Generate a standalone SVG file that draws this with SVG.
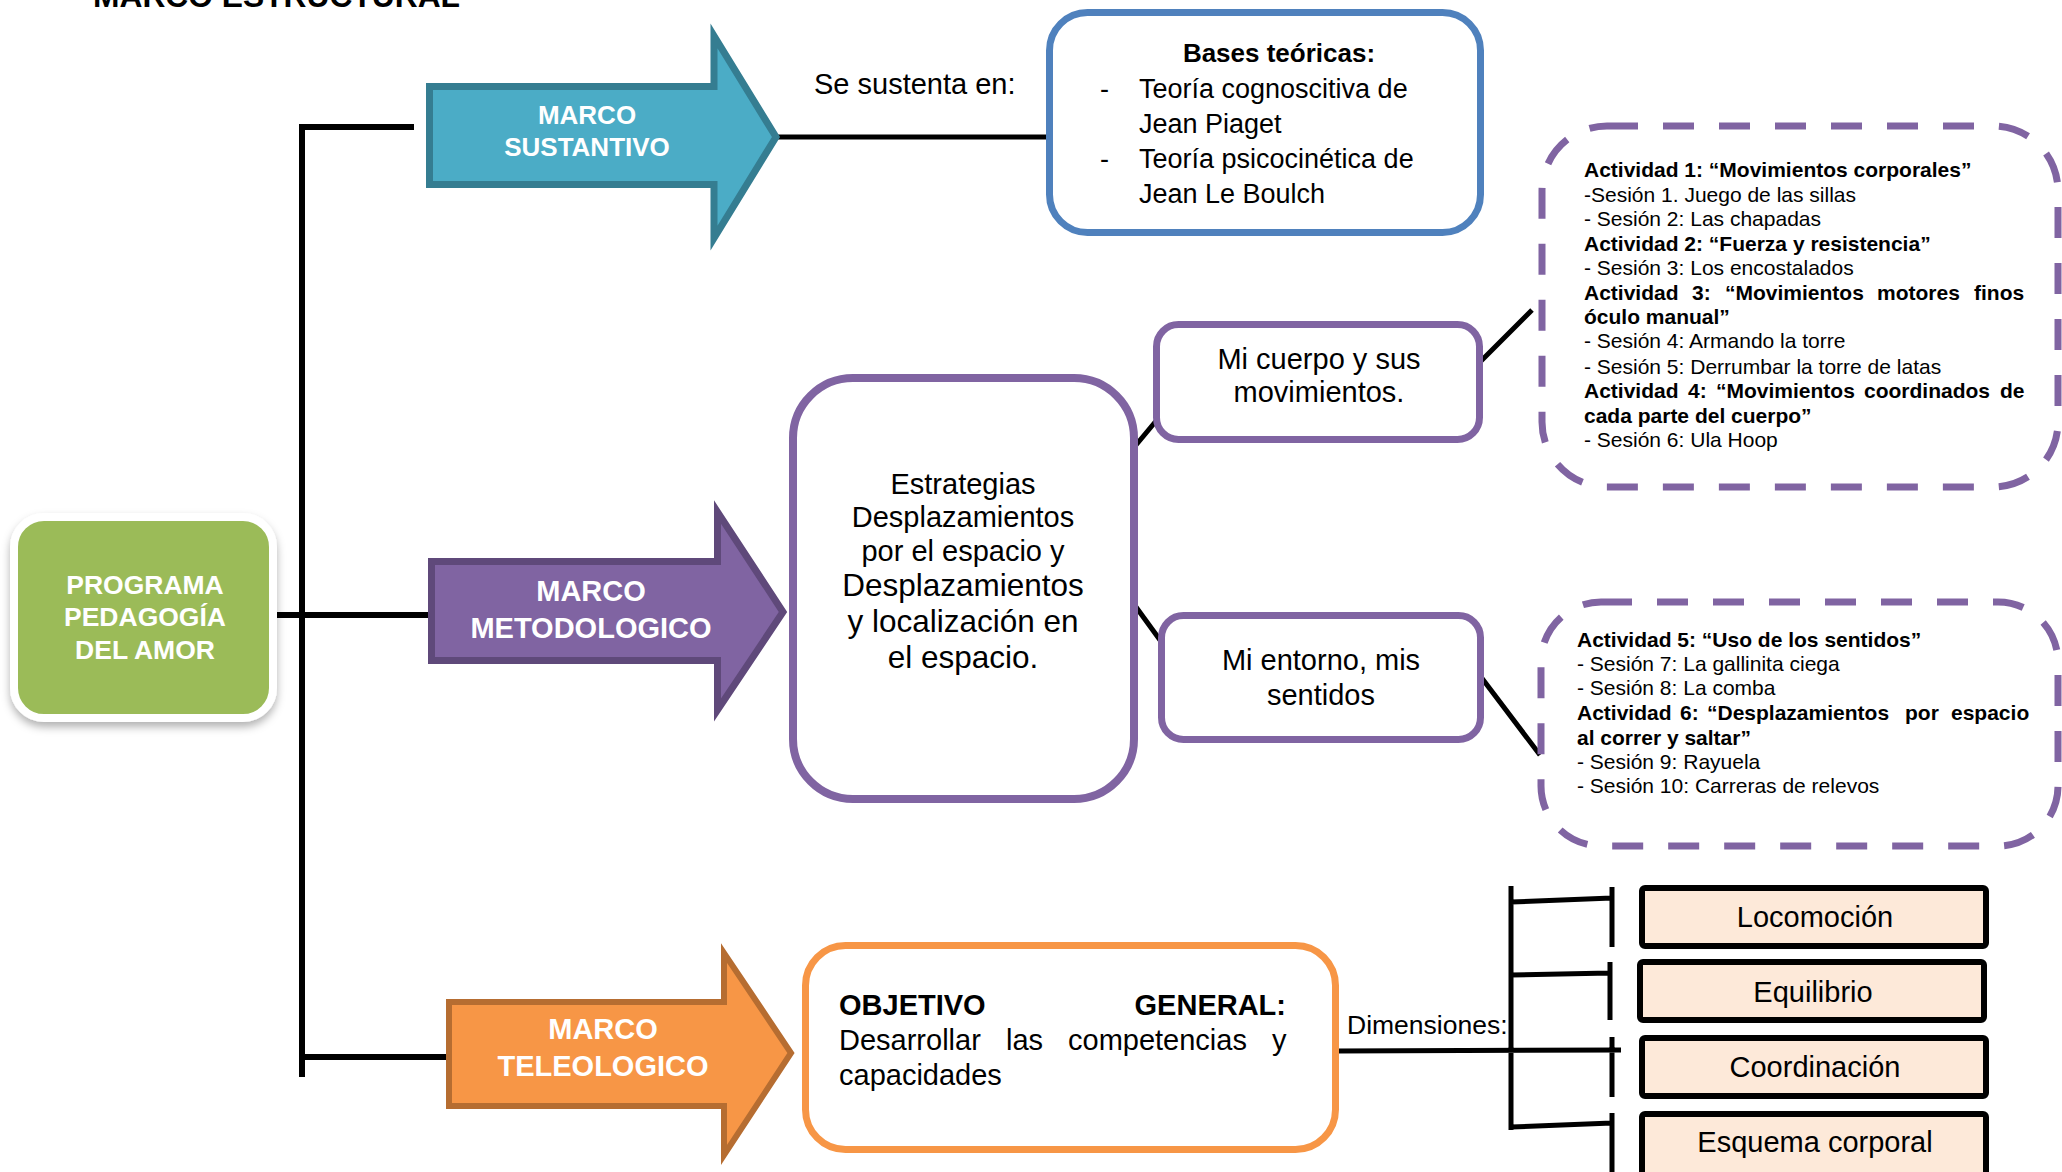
<svg xmlns="http://www.w3.org/2000/svg" width="2062" height="1172" viewBox="0 0 2062 1172">
<defs>
<style>
text{font-family:"Liberation Sans",Arial,sans-serif;fill:#000}
.b{font-weight:bold}
.w{fill:#fff;font-weight:bold;text-anchor:middle}
.c{text-anchor:middle}
.ln{stroke:#000;stroke-width:6;fill:none}
.ln5{stroke:#000;stroke-width:5;fill:none}
.pbox{fill:#fff;stroke:#8064A2;stroke-width:7}
.dash{fill:#fff;stroke:#8064A2;stroke-width:7;stroke-dasharray:31 25}
.dim{fill:#FDE9D9;stroke:#000;stroke-width:6}
.act{font-size:21px}
</style>
<filter id="sh" x="-10%" y="-10%" width="120%" height="130%">
<feDropShadow dx="0" dy="5" stdDeviation="4" flood-color="#000" flood-opacity="0.3"/>
</filter>
</defs>
<rect width="2062" height="1172" fill="#fff"/>
<text class="b" x="93" y="7" font-size="32" textLength="367" lengthAdjust="spacingAndGlyphs">MARCO ESTRUCTURAL</text>

<g id="connectors">
<path class="ln" d="M302,127 H414 M302,124 V1077 M277,615 H430 M299,1057 H448"/>
<path class="ln5" d="M778,137 H1048"/>
<path class="ln5" d="M1136,445 L1156,421 M1136,607 L1160,640 M1480,362 L1532,310 M1481,677 L1540,755"/>
<path class="ln5" d="M1337,1051 L1621,1050 M1511,886 V1130 M1511,902 L1612,898 M1511,975 L1610,973 M1511,1127 L1612,1123 M1612,887 V947 M1610,962 V1020 M1612,1037 V1097 M1612,1113 V1172"/>
</g>

<g id="programa">
<rect x="14" y="517" width="259" height="201" rx="30" fill="#9BBB59" stroke="#fff" stroke-width="8" filter="url(#sh)"/>
<text class="w" font-size="26.5" x="145" y="594">PROGRAMA</text>
<text class="w" font-size="26.5" x="145" y="626">PEDAGOGÍA</text>
<text class="w" font-size="26.5" x="145" y="659">DEL AMOR</text>
</g>

<g id="marco-sustantivo">
<path d="M429.5,86.5 H714 V36 L776,137 L714,238 V184.5 H429.5 Z" fill="#4BACC6" stroke="#357D91" stroke-width="7"/>
<text class="w" font-size="26" x="587" y="124">MARCO</text>
<text class="w" font-size="26" x="587" y="156">SUSTANTIVO</text>
</g>

<g id="marco-metodologico">
<path d="M431.5,561.5 H717.5 V512 L783,612 L717.5,710 V660.5 H431.5 Z" fill="#8064A2" stroke="#5F497A" stroke-width="7"/>
<text class="w" font-size="29" x="591" y="601">MARCO</text>
<text class="w" font-size="29" x="591" y="638">METODOLOGICO</text>
</g>

<g id="marco-teleologico">
<path d="M449,1002 H724 V953 L791,1053 L724,1155 V1106 H449 Z" fill="#F79646" stroke="#B66D31" stroke-width="6"/>
<text class="w" font-size="29" x="603" y="1039">MARCO</text>
<text class="w" font-size="29" x="603" y="1076">TELEOLOGICO</text>
</g>

<g id="se-sustenta">
<text font-size="29" x="814" y="94">Se sustenta en:</text>
</g>

<g id="bases-teoricas">
<rect x="1049.5" y="12.5" width="431" height="220" rx="38" fill="#fff" stroke="#4F81BD" stroke-width="7"/>
<text class="b c" font-size="26" x="1279" y="62">Bases teóricas:</text>
<text font-size="27" x="1100" y="98">-</text>
<text font-size="27" x="1139" y="98">Teoría cognoscitiva de</text>
<text font-size="27" x="1139" y="133">Jean Piaget</text>
<text font-size="27" x="1100" y="168">-</text>
<text font-size="27" x="1139" y="168">Teoría psicocinética de</text>
<text font-size="27" x="1139" y="203">Jean Le Boulch</text>
</g>

<g id="estrategias">
<rect x="793" y="378" width="341" height="421" rx="60" fill="#fff" stroke="#8064A2" stroke-width="8"/>
<text class="c" font-size="29" x="963" y="494">Estrategias</text>
<text class="c" font-size="29" x="963" y="527">Desplazamientos</text>
<text class="c" font-size="29" x="963" y="561">por el espacio y</text>
<text class="c" font-size="31.5" x="963" y="596">Desplazamientos</text>
<text class="c" font-size="31.5" x="963" y="632">y localización en</text>
<text class="c" font-size="31.5" x="963" y="668">el espacio.</text>
</g>

<g id="mi-cuerpo">
<rect class="pbox" x="1156.5" y="324.5" width="323" height="115" rx="22"/>
<text class="c" font-size="29" x="1319" y="369">Mi cuerpo y sus</text>
<text class="c" font-size="29" x="1319" y="402">movimientos.</text>
</g>

<g id="mi-entorno">
<rect class="pbox" x="1161.5" y="615.5" width="319" height="124" rx="22"/>
<text class="c" font-size="29" x="1321" y="670">Mi entorno, mis</text>
<text class="c" font-size="29" x="1321" y="705">sentidos</text>
</g>

<g id="actividades-1-4">
<rect class="dash" x="1542" y="126" width="516" height="361" rx="65"/>
<text class="act b" x="1584" y="177">Actividad 1: “Movimientos corporales”</text>
<text class="act" x="1584" y="202">-Sesión 1. Juego de las sillas</text>
<text class="act" x="1584" y="226">- Sesión 2: Las chapadas</text>
<text class="act b" x="1584" y="251">Actividad 2: “Fuerza y resistencia”</text>
<text class="act" x="1584" y="275">- Sesión 3: Los encostalados</text>
<text class="act b" y="300"><tspan x="1584">Actividad</tspan><tspan x="1692">3:</tspan><tspan x="1725">“Movimientos</tspan><tspan x="1877">motores</tspan><tspan x="1974">finos</tspan></text>
<text class="act b" x="1584" y="324">óculo manual”</text>
<text class="act" x="1584" y="348">- Sesión 4: Armando la torre</text>
<text class="act" x="1584" y="374">- Sesión 5: Derrumbar la torre de latas</text>
<text class="act b" y="398"><tspan x="1584">Actividad</tspan><tspan x="1688">4:</tspan><tspan x="1716">“Movimientos</tspan><tspan x="1864">coordinados</tspan><tspan x="2000">de</tspan></text>
<text class="act b" x="1584" y="423">cada parte del cuerpo”</text>
<text class="act" x="1584" y="447">- Sesión 6: Ula Hoop</text>
</g>

<g id="actividades-5-6">
<rect class="dash" x="1541" y="602" width="517" height="244" rx="60"/>
<text class="act b" x="1577" y="647">Actividad 5: “Uso de los sentidos”</text>
<text class="act" x="1577" y="671">- Sesión 7: La gallinita ciega</text>
<text class="act" x="1577" y="695">- Sesión 8: La comba</text>
<text class="act b" y="720"><tspan x="1577">Actividad</tspan><tspan x="1680">6:</tspan><tspan x="1707">“Desplazamientos</tspan><tspan x="1905">por</tspan><tspan x="1951">espacio</tspan></text>
<text class="act b" x="1577" y="745">al correr y saltar”</text>
<text class="act" x="1577" y="769">- Sesión 9: Rayuela</text>
<text class="act" x="1577" y="793">- Sesión 10: Carreras de relevos</text>
</g>

<g id="objetivo">
<rect x="805.5" y="945.5" width="530" height="204" rx="40" fill="#fff" stroke="#F79646" stroke-width="7"/>
<text class="b" font-size="29" x="839" y="1015">OBJETIVO</text>
<text class="b" font-size="29" x="1286" y="1015" text-anchor="end">GENERAL:</text>
<text font-size="29" y="1050"><tspan x="839">Desarrollar</tspan><tspan x="1006">las</tspan><tspan x="1068">competencias</tspan><tspan x="1272">y</tspan></text>
<text font-size="29" x="839" y="1085">capacidades</text>
</g>

<g id="dimensiones-label">
<text font-size="26.5" x="1347" y="1034">Dimensiones:</text>
</g>

<g id="locomocion">
<rect class="dim" x="1642" y="888" width="344" height="58" rx="3"/>
<text class="c" font-size="29" x="1815" y="927">Locomoción</text>
</g>
<g id="equilibrio">
<rect class="dim" x="1640" y="962" width="344" height="58" rx="3"/>
<text class="c" font-size="29" x="1813" y="1002">Equilibrio</text>
</g>
<g id="coordinacion">
<rect class="dim" x="1642" y="1038" width="344" height="58" rx="3"/>
<text class="c" font-size="29" x="1815" y="1077">Coordinación</text>
</g>
<g id="esquema">
<rect class="dim" x="1642" y="1114" width="344" height="70" rx="3"/>
<text class="c" font-size="29" x="1815" y="1152">Esquema corporal</text>
</g>
</svg>
